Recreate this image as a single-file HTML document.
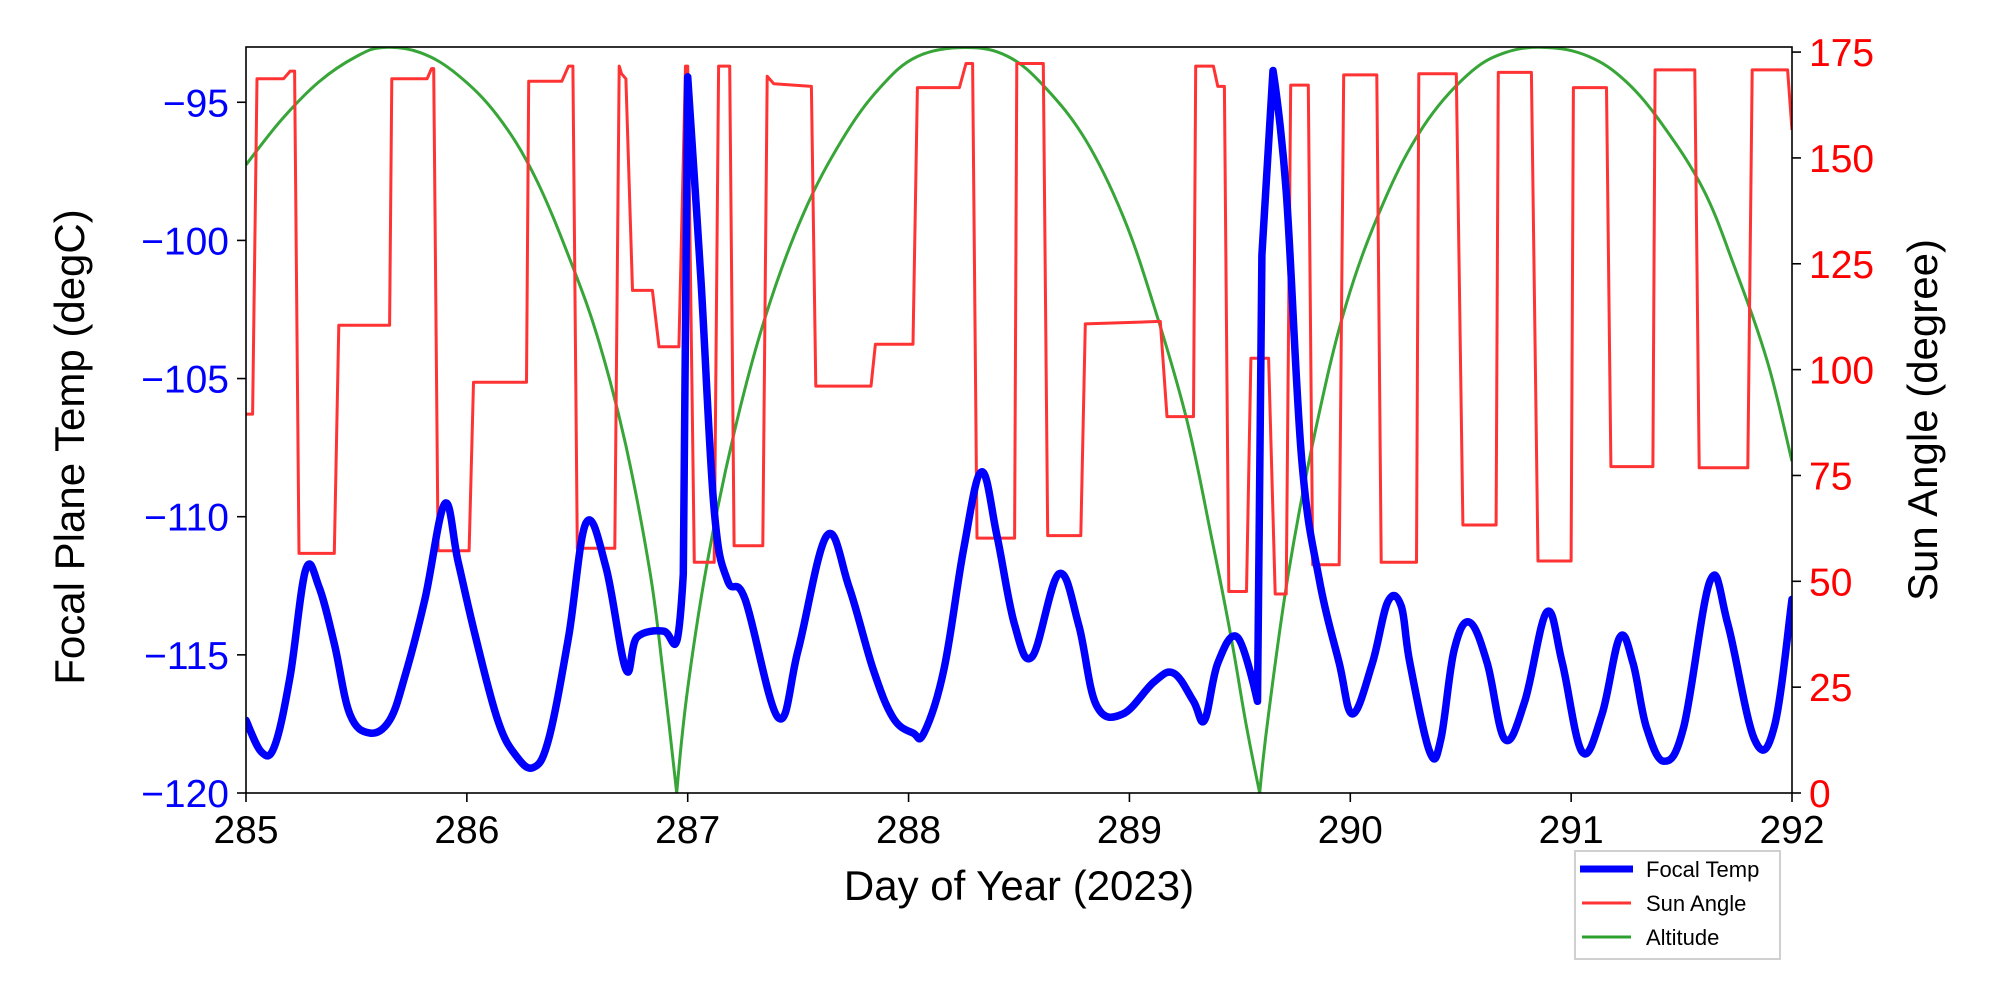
<!DOCTYPE html>
<html><head><meta charset="utf-8"><style>
html,body{margin:0;padding:0;background:#fff;}
svg{display:block;font-family:"Liberation Sans","DejaVu Sans",sans-serif;}
</style></head><body>
<svg id="chart" width="2000" height="1000" viewBox="0 0 2000 1000">
<g id="marks"></g>
<g id="axes"></g>
</svg>
<script>
const tempDays=[285.00,285.07,285.13,285.20,285.27,285.33,285.40,285.47,285.56,285.65,285.72,285.81,285.90,285.96,286.04,286.14,286.22,286.30,286.37,286.46,286.54,286.63,286.72,286.77,286.89,286.95,286.98,287.00,287.06,287.12,287.18,287.26,287.41,287.50,287.63,287.73,287.84,287.93,288.02,288.07,288.16,288.25,288.33,288.40,288.48,288.56,288.68,288.77,288.85,288.97,289.11,289.20,289.29,289.34,289.40,289.49,289.58,289.60,289.65,289.71,289.78,289.86,289.95,290.01,290.10,290.17,290.23,290.27,290.36,290.41,290.47,290.54,290.62,290.70,290.79,290.89,290.96,291.05,291.14,291.22,291.28,291.34,291.42,291.51,291.63,291.71,291.83,291.92,292.00];
const tempVals=[-117.37,-118.52,-118.29,-115.76,-111.93,-112.53,-114.60,-117.14,-117.83,-117.37,-115.76,-112.99,-109.53,-111.61,-114.37,-117.37,-118.62,-119.08,-118.06,-114.37,-110.22,-111.84,-115.53,-114.37,-114.14,-114.51,-112.07,-94.08,-101.46,-109.76,-112.30,-112.99,-117.28,-114.83,-110.68,-112.53,-115.53,-117.28,-117.83,-117.83,-115.53,-111.14,-108.38,-110.68,-113.91,-115.06,-112.07,-113.91,-116.82,-117.14,-115.99,-115.66,-116.68,-117.37,-115.30,-114.37,-116.68,-100.53,-93.85,-98.23,-107.92,-112.30,-115.30,-117.14,-115.30,-113.08,-113.22,-115.30,-118.52,-118.06,-114.83,-113.82,-115.30,-118.06,-116.68,-113.45,-115.30,-118.52,-117.14,-114.37,-115.30,-117.60,-118.85,-117.60,-112.30,-113.91,-118.06,-117.60,-112.99];
const sunDays=[285.00,285.03,285.05,285.17,285.20,285.22,285.24,285.40,285.42,285.65,285.66,285.82,285.84,285.85,285.87,286.01,286.03,286.27,286.28,286.43,286.46,286.48,286.50,286.67,286.69,286.70,286.72,286.75,286.84,286.87,286.96,286.99,287.00,287.03,287.12,287.14,287.19,287.21,287.34,287.36,287.39,287.56,287.58,287.83,287.85,288.02,288.04,288.23,288.26,288.29,288.31,288.48,288.49,288.61,288.63,288.78,288.80,289.14,289.17,289.29,289.30,289.38,289.40,289.43,289.45,289.53,289.55,289.63,289.66,289.71,289.73,289.81,289.83,289.95,289.97,290.12,290.14,290.30,290.31,290.48,290.51,290.66,290.67,290.82,290.85,291.00,291.01,291.16,291.18,291.37,291.38,291.56,291.58,291.80,291.82,291.98,292.00];
const sunVals=[89.5,89.5,168.7,168.7,170.5,170.5,56.6,56.6,110.5,110.5,168.7,168.7,171.1,171.1,57.2,57.2,97.0,97.0,168.1,168.1,171.7,171.7,57.8,57.8,171.7,169.9,168.7,118.7,118.7,105.4,105.4,171.7,171.7,54.5,54.5,171.7,171.7,58.4,58.4,169.3,167.5,166.9,96.1,96.1,106.0,106.0,166.6,166.6,172.3,172.3,60.2,60.2,172.3,172.3,60.8,60.8,110.8,111.4,88.9,88.9,171.7,171.7,166.9,166.9,47.6,47.6,102.7,102.7,47.0,47.0,167.2,167.2,53.9,53.9,169.6,169.6,54.5,54.5,169.9,169.9,63.3,63.3,170.2,170.2,54.8,54.8,166.6,166.6,77.1,77.1,170.8,170.8,76.8,76.8,170.8,170.8,156.6];
const altDays=[285.00,285.16,285.33,285.50,285.62,285.79,285.96,286.14,286.31,286.48,286.60,286.72,286.83,286.89,286.95,287.00,287.09,287.21,287.35,287.52,287.70,287.87,288.04,288.26,288.45,288.62,288.80,288.97,289.11,289.26,289.37,289.46,289.53,289.59,289.63,289.72,289.84,289.98,290.15,290.33,290.53,290.70,290.89,291.08,291.25,291.42,291.60,291.74,291.89,292.00];
const altVals=[84.1,90.1,95.2,98.6,99.8,99.1,96.1,90.6,82.4,70.4,60.2,46.5,29.4,15.7,0,14.0,31.1,48.2,63.6,77.3,87.5,94.4,98.6,99.8,98.6,94.4,87.5,77.3,65.3,49.9,34.5,20.9,8.9,0,10.6,29.4,48.2,65.3,79.0,89.2,96.1,99.1,99.8,98.6,95.2,89.2,80.7,70.4,57.6,44.4];
const xTicks=[285,286,287,288,289,290,291,292];
const leftTicks=[-95,-100,-105,-110,-115,-120];
const rightTicks=[0,25,50,75,100,125,150,175];

const L=246,R=1792,T=47,B=793;
const NS='http://www.w3.org/2000/svg';
const xS=d=>L+(d-285)/7*(R-L);
const yL=v=>B-(v+120)/(27.0)*(B-T);
const yR=v=>B-v/176.2*(B-T);
const yA=v=>B-v/100*(B-T+1);
function mk(tag,attrs,parent){const e=document.createElementNS(NS,tag);for(const k in attrs)e.setAttribute(k,attrs[k]);parent.appendChild(e);return e;}
const marks=document.getElementById('marks'),axes=document.getElementById('axes');
function line(xs,ys,fx,fy){return xs.map((d,i)=>(i?'L':'M')+fx(d).toFixed(1)+','+fy(ys[i]).toFixed(1)).join('');}
function smooth(xs,ys,fx,fy,sharp){
 const p=xs.map((d,i)=>[fx(d),fy(ys[i])]);
 let s='M'+p[0][0].toFixed(1)+','+p[0][1].toFixed(1);
 const k=0.18;
 for(let i=0;i<p.length-1;i++){
  const p0=p[Math.max(0,i-1)],p1=p[i],p2=p[i+1],p3=p[Math.min(p.length-1,i+2)];
  let t1=sharp&&sharp.includes(i)?0:k, t2=sharp&&sharp.includes(i+1)?0:k;
  const c1x=p1[0]+(p2[0]-p0[0])*t1,c1y=p1[1]+(p2[1]-p0[1])*t1;
  const c2x=p2[0]-(p3[0]-p1[0])*t2,c2y=p2[1]-(p3[1]-p1[1])*t2;
  s+='C'+c1x.toFixed(1)+','+c1y.toFixed(1)+' '+c2x.toFixed(1)+','+c2y.toFixed(1)+' '+p2[0].toFixed(1)+','+p2[1].toFixed(1);
 }
 return s;
}
const cp=mk('clipPath',{id:'cp'},marks);mk('rect',{x:L,y:T,width:R-L,height:B-T},cp);
const g=mk('g',{'clip-path':'url(#cp)'},marks);
const pa=mk('path',{d:smooth(altDays,altVals,xS,yA,[14,33]),fill:'none',stroke:'#2ca02c','stroke-width':3,'stroke-opacity':0.95},g);


const ps=mk('path',{d:line(sunDays,sunVals,xS,yR),fill:'none',stroke:'#ff3333','stroke-width':3,'stroke-linejoin':'round'},g);


const pt=mk('path',{d:smooth(tempDays,tempVals,xS,yL,[26,27,56,57,58]),fill:'none',stroke:'#0000ff','stroke-width':7.5,'stroke-linejoin':'round','stroke-linecap':'round'},g);


const fr=mk('rect',{x:L,y:T,width:R-L,height:B-T,fill:'none',stroke:'#000','stroke-width':1.6},axes);


xTicks.forEach(t=>{const x=xS(t);mk('line',{x1:x,x2:x,y1:B,y2:B+9,stroke:'#000','stroke-width':1.6},axes);
 const tx=mk('text',{x:x,y:B+50,'font-size':39,'text-anchor':'middle',fill:'#000'},axes);tx.textContent=t;
 
 });
leftTicks.forEach(t=>{const y=yL(t);mk('line',{x1:L-9,x2:L,y1:y,y2:y,stroke:'#000','stroke-width':1.6},axes);
 const tx=mk('text',{x:L-17,y:y+14,'font-size':39,'text-anchor':'end',fill:'#0000ff'},axes);tx.textContent='\u2212'+Math.abs(t);
 
 });
rightTicks.forEach(t=>{const y=yR(t);mk('line',{x1:R,x2:R+9,y1:y,y2:y,stroke:'#000','stroke-width':1.6},axes);
 const tx=mk('text',{x:R+17,y:y+14,'font-size':39,'text-anchor':'start',fill:'#ff0000'},axes);tx.textContent=t;
 
 });
</script>
<svg style="position:absolute;left:0;top:0" width="2000" height="1000">
<text x="1019" y="900" font-size="42" text-anchor="middle" font-family="Liberation Sans, sans-serif">Day of Year (2023)</text>
<text transform="translate(84,447) rotate(-90)" font-size="42" text-anchor="middle" font-family="Liberation Sans, sans-serif">Focal Plane Temp (degC)</text>
<text transform="translate(1937,420) rotate(-90)" font-size="42" text-anchor="middle" font-family="Liberation Sans, sans-serif">Sun Angle (degree)</text>
<g font-family="Liberation Sans, sans-serif" font-size="22">
<rect x="1575" y="851" width="205" height="108" fill="#fff" stroke="#d0d0d0" stroke-width="2"/>
<line x1="1580" y1="869" x2="1633" y2="869" stroke="#0000ff" stroke-width="7"/>
<text x="1646" y="877">Focal Temp</text>
<line x1="1582" y1="903" x2="1631" y2="903" stroke="#ff3333" stroke-width="3"/>
<text x="1646" y="911">Sun Angle</text>
<line x1="1582" y1="937" x2="1631" y2="937" stroke="#2ca02c" stroke-width="3"/>
<text x="1646" y="945">Altitude</text>
</g>
</svg>
</body></html>
